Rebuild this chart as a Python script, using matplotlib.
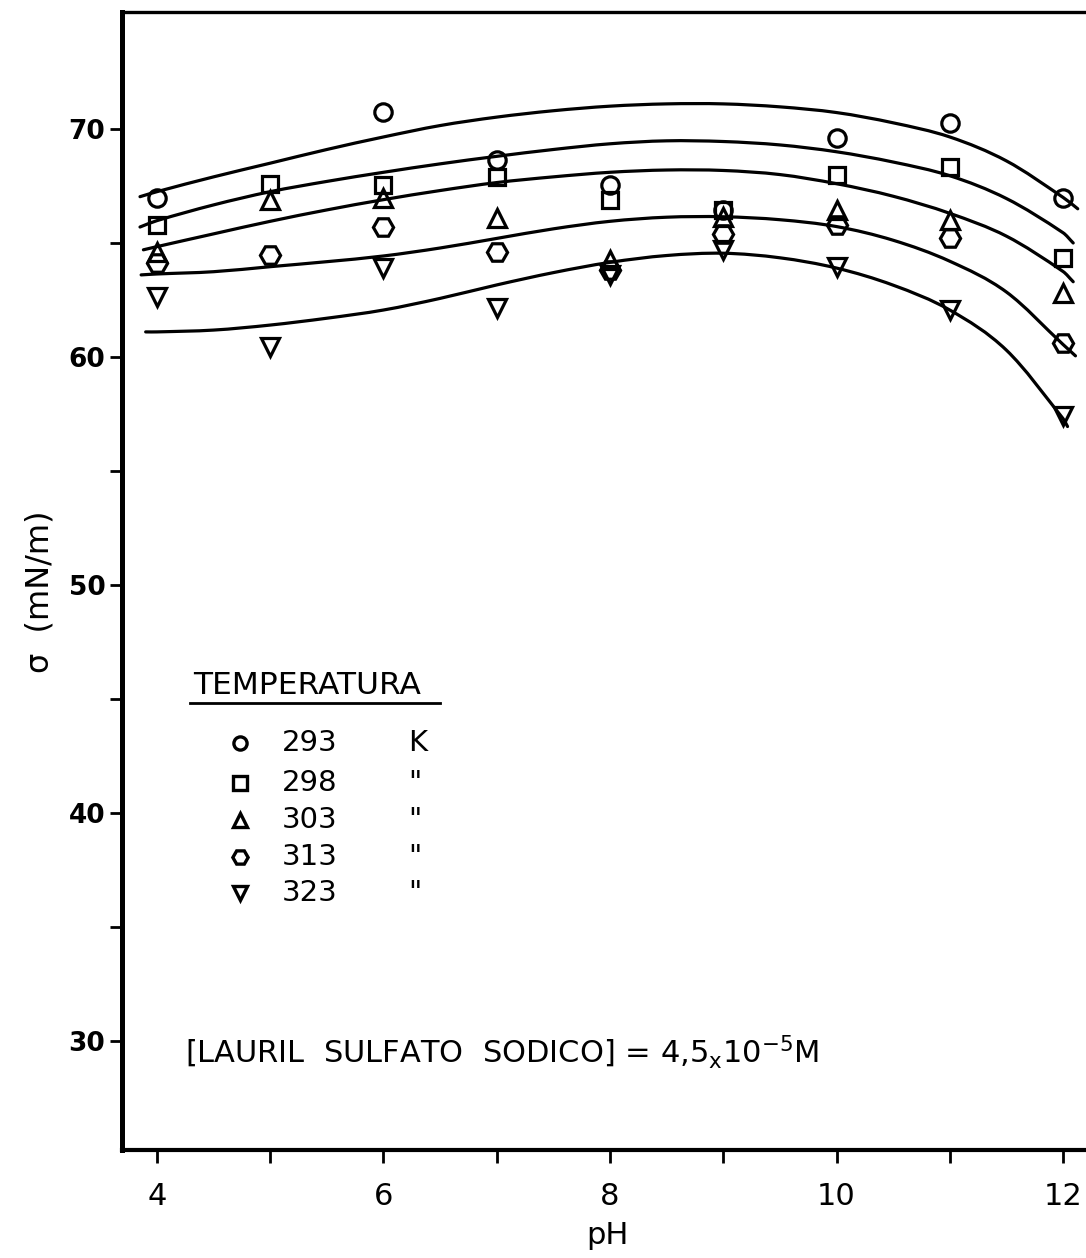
import numpy as np
import matplotlib
matplotlib.use('Agg')
import matplotlib.pyplot as plt
from matplotlib.path import Path
from matplotlib.patches import PathPatch

# measured points
ph = [4, 5, 6, 7, 8, 9, 10, 11, 12]
t293 = [66.96, np.nan, 70.76, 68.64, 67.54, 66.45, 69.6, 70.25, 66.96]
t298 = [65.8, 67.6, 67.54, 67.9, 66.9, 66.45, 67.98, 68.35, 64.33]
t303 = [64.6, 66.9, 66.96, 66.1, 64.25, 66.15, 66.45, 66.0, 62.8]
t313 = [64.1, 64.47, 65.7, 64.62, 63.8, 65.4, 65.8, 65.2, 60.6]
t323 = [62.64, 60.45, 63.9, 62.14, 63.6, 64.7, 63.96, 62.06, 57.4]

# drawn curves
c293_ph = [3.85, 4, 4.5, 5, 5.5, 6, 6.5, 7, 7.5, 8, 8.5, 9, 9.5, 10, 10.5, 11, 11.5, 12, 12.13]
c293 = [67.03, 67.25, 67.9, 68.5, 69.1, 69.65, 70.15, 70.52, 70.8, 71.0, 71.1, 71.1, 70.97, 70.72, 70.27, 69.65, 68.6, 67.0, 66.5]
c298_ph = [3.85, 4, 4.5, 5, 5.5, 6, 6.5, 7, 7.5, 8, 8.5, 9, 9.5, 10, 10.5, 11, 11.5, 12, 12.09]
c298 = [65.7, 65.98, 66.67, 67.25, 67.7, 68.1, 68.47, 68.8, 69.1, 69.35, 69.48, 69.45, 69.3, 69.0, 68.55, 67.95, 66.95, 65.45, 65.0]
c303_ph = [3.88, 4, 4.5, 5, 5.5, 6, 6.5, 7, 7.5, 8, 8.5, 9, 9.5, 10, 10.5, 11, 11.5, 12, 12.09]
c303 = [64.7, 64.84, 65.4, 65.95, 66.45, 66.9, 67.3, 67.65, 67.9, 68.1, 68.2, 68.18, 68.0, 67.6, 67.05, 66.3, 65.3, 63.75, 63.3]
c313_ph = [3.86, 4, 4.5, 5, 5.5, 6, 6.5, 7, 7.5, 8, 8.5, 9, 9.5, 10, 10.5, 11, 11.5, 12, 12.11]
c313 = [63.6, 63.64, 63.74, 63.96, 64.18, 64.43, 64.78, 65.2, 65.62, 65.95, 66.13, 66.15, 66.02, 65.72, 65.12, 64.2, 62.85, 60.55, 60.05]
c323_ph = [3.9, 4, 4.5, 5, 5.5, 6, 6.5, 7, 7.5, 8, 8.5, 9, 9.5, 10, 10.5, 11, 11.5, 12, 12.04]
c323 = [61.1, 61.1, 61.18, 61.4, 61.7, 62.06, 62.57, 63.16, 63.7, 64.15, 64.45, 64.55, 64.35, 63.9, 63.15, 62.06, 60.3, 57.3, 56.95]

temps = ['293', '298', '303', '313', '323']
units = ['K', '"', '"', '"', '"']
markers = ['o', 's', '^', 'H', 'v']
msizes = [12.5, 12, 12.5, 14.5, 12.5]
series = [t293, t298, t303, t313, t323]
curves = [(c293_ph, c293), (c298_ph, c298), (c303_ph, c303), (c313_ph, c313), (c323_ph, c323)]


def smooth_path(xs, ys):
    # cubic Hermite through the read points (tangents from neighbours),
    # drawn as Bezier segments
    x = np.asarray(xs, float)
    y = np.asarray(ys, float)
    n = len(x)
    m = np.empty(n)
    m[0] = (y[1] - y[0]) / (x[1] - x[0])
    m[-1] = (y[-1] - y[-2]) / (x[-1] - x[-2])
    for i in range(1, n - 1):
        m[i] = (y[i + 1] - y[i - 1]) / (x[i + 1] - x[i - 1])
    verts = [(x[0], y[0])]
    codes = [Path.MOVETO]
    for i in range(n - 1):
        h = x[i + 1] - x[i]
        verts += [(x[i] + h / 3, y[i] + m[i] * h / 3),
                  (x[i + 1] - h / 3, y[i + 1] - m[i + 1] * h / 3),
                  (x[i + 1], y[i + 1])]
        codes += [Path.CURVE4] * 3
    return Path(verts, codes)


fig = plt.figure(figsize=(10.86, 12.58), dpi=100)
ax = fig.add_axes([122/1086, 108/1258, 964/1086, 1138/1258])

for (cx, cy) in curves:
    ax.add_patch(PathPatch(smooth_path(cx, cy), fill=False, edgecolor='black',
                           lw=2.3, capstyle='round'))
for vals, m, s in zip(series, markers, msizes):
    ax.plot(ph, vals, linestyle='none', marker=m, ms=s, mfc='none',
            mec='black', mew=2.3)

ax.set_xlim(3.691, 12.203)
ax.set_ylim(25.22, 75.13)
ax.set_xticks([4, 5, 6, 7, 8, 9, 10, 11, 12])
ax.set_xticklabels(['4', '', '6', '', '8', '', '10', '', '12'])
ax.set_yticks([30, 35, 40, 45, 50, 55, 60, 65, 70])
ax.set_yticklabels(['30', '', '40', '', '50', '', '60', '', '70'])
ax.tick_params(axis='x', direction='out', length=9, width=2, pad=14,
               labelsize=22)
ax.tick_params(axis='y', direction='out', length=9, width=2, pad=3,
               labelsize=19)
for lab in ax.get_yticklabels():
    lab.set_fontweight('bold')

ax.spines['right'].set_visible(False)
ax.spines['left'].set_linewidth(3.6)
ax.spines['bottom'].set_linewidth(3.0)
ax.spines['top'].set_linewidth(2.4)

fig.text(607/1086, 1 - 1236/1258, 'pH', ha='center', va='center', fontsize=22)
fig.text(40/1086, 1 - 592/1258, 'σ  (mN/m)', rotation=90, ha='center',
         va='center', fontsize=23)

# legend block
ax.text((193-122)/964, (1150-686)/1138, 'TEMPERATURA', transform=ax.transAxes,
        ha='left', va='center', fontsize=22.5)
ax.plot([(190-122)/964, (440-122)/964], [(1150-703)/1138]*2,
        transform=ax.transAxes, color='black', lw=2)
rows = [743, 783, 820, 857, 893]
for t, u, m, py in zip(temps, units, markers, rows):
    yy = (1150-py)/1138
    ax.plot([(240-122)/964], [yy], transform=ax.transAxes, marker=m,
            ms=11 if m == 'H' else 9.5, mfc='none', mec='black', mew=2.4,
            linestyle='none')
    ax.text((282-122)/964, yy, t, transform=ax.transAxes, ha='left',
            va='center', fontsize=21)
    ax.text((408-122)/964, yy, u, transform=ax.transAxes, ha='left',
            va='center', fontsize=21)

ax.text((185-122)/964, (1150-1052)/1138,
        r'[LAURIL  SULFATO  SODICO] = 4,5$_{\mathregular{x}}$10$^{\mathregular{-5}}$M',
        transform=ax.transAxes, ha='left', va='center', fontsize=22)

fig.savefig('out.png', dpi=100)
